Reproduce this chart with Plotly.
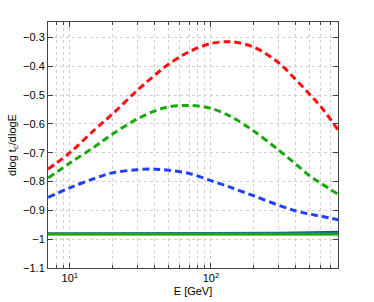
import plotly.graph_objects as go

E = [7, 10, 15, 20, 30, 40, 50, 70, 100, 130, 150, 200, 300, 400, 500, 600, 800]

red_dashed = [-0.757, -0.700, -0.620, -0.566, -0.484, -0.431, -0.393, -0.350, -0.321,
              -0.315, -0.317, -0.333, -0.387, -0.447, -0.497, -0.540, -0.623]
green_dashed = [-0.788, -0.736, -0.679, -0.636, -0.583, -0.555, -0.541, -0.536, -0.546,
                -0.568, -0.584, -0.624, -0.690, -0.740, -0.780, -0.806, -0.845]
blue_dashed = [-0.855, -0.822, -0.789, -0.770, -0.759, -0.757, -0.761, -0.772, -0.797,
               -0.816, -0.827, -0.849, -0.882, -0.902, -0.913, -0.920, -0.933]

red_solid = [-0.982] * len(E)
blue_solid = [-0.981, -0.981, -0.981, -0.981, -0.981, -0.981, -0.981, -0.981, -0.981,
              -0.981, -0.981, -0.980, -0.979, -0.978, -0.977, -0.976, -0.975]
green_solid = [-0.982] * len(E)

y_ticks = [-1.1, -1.0, -0.9, -0.8, -0.7, -0.6, -0.5, -0.4, -0.3]
y_tick_text = ["\u22121.1", "\u22121", "\u22120.9", "\u22120.8", "\u22120.7", "\u22120.6",
               "\u22120.5", "\u22120.4", "\u22120.3"]
x_ticks = [10, 100]
x_tick_text = ["10<sup>1</sup>", "10<sup>2</sup>"]
x_minor = [7, 8, 9, 20, 30, 40, 50, 60, 70, 80, 90, 200, 300, 400, 500, 600, 700, 800]

RED = "#ff1010"
GREEN = "#1aa80f"
BLUE = "#2040ff"

fig = go.Figure()
fig.add_trace(go.Scatter(x=E, y=red_solid, mode="lines", line=dict(color=RED, width=2.5)))
fig.add_trace(go.Scatter(x=E, y=blue_solid, mode="lines", line=dict(color=BLUE, width=2.5)))
fig.add_trace(go.Scatter(x=E, y=green_solid, mode="lines", line=dict(color=GREEN, width=3)))
fig.add_trace(go.Scatter(x=E, y=red_dashed, mode="lines", line=dict(color=RED, width=3, dash="7px,4px", shape="spline")))
fig.add_trace(go.Scatter(x=E, y=green_dashed, mode="lines", line=dict(color=GREEN, width=3, dash="7px,4px", shape="spline")))
fig.add_trace(go.Scatter(x=E, y=blue_dashed, mode="lines", line=dict(color=BLUE, width=3, dash="7px,4px", shape="spline")))

fig.update_layout(
    width=374, height=302,
    margin=dict(l=48, r=36, t=22, b=34, autoexpand=False),
    paper_bgcolor="white", plot_bgcolor="white",
    showlegend=False,
    font=dict(family="Liberation Sans, Arial, sans-serif", size=11, color="#000"),
)
fig.update_xaxes(
    type="log", range=[0.845, 2.9], automargin=False,
    tickmode="array", tickvals=x_ticks, ticktext=x_tick_text,
    ticks="inside", ticklen=5, tickcolor="#444",
    showline=True, linecolor="#444", linewidth=1, mirror="allticks",
    showgrid=True, gridcolor="#d0d0d0", griddash="dot", gridwidth=1,
    minor=dict(tickmode="array", tickvals=x_minor, ticks="inside", ticklen=3,
               tickcolor="#444", showgrid=True, gridcolor="#d0d0d0", griddash="dot"),
    zeroline=False,
    title=dict(text="E [GeV]", standoff=4, font=dict(size=11)),
)
fig.update_yaxes(
    range=[-1.1, -0.2465], automargin=False,
    tickmode="array", tickvals=y_ticks, ticktext=y_tick_text,
    ticks="inside", ticklen=5, tickcolor="#444",
    showline=True, linecolor="#444", linewidth=1, mirror="allticks",
    showgrid=True, gridcolor="#d0d0d0", griddash="dot", gridwidth=1,
    zeroline=False,
    title=dict(text="dlog t<sub>c</sub>/dlogE", standoff=4, font=dict(size=11)),
)

fig.write_html("out.html", config={"displayModeBar": False},
               post_script="document.body.style.margin='0';")
